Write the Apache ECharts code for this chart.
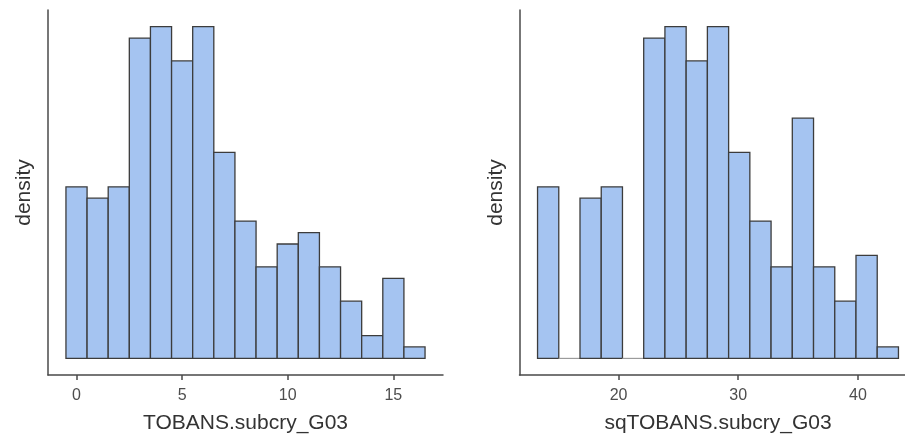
<!DOCTYPE html>
<html>
<head>
<meta charset="utf-8">
<script src="https://cdn.jsdelivr.net/npm/echarts@6/dist/echarts.min.js"></script>
<style>
  html, body { margin: 0; padding: 0; background: #fff; }
  #chart { width: 905px; height: 439px; }
</style>
</head>
<body>
<div id="chart"></div>
<script>
// Histogram of TOBANS.subcry_G03: bin centres 0..16, width 1
const leftBinStart = -0.5;
const leftBinWidth = 1;
const leftCounts = [15, 14, 15, 28, 29, 26, 29, 18, 12, 8, 10, 11, 8, 5, 2, 7, 1];
const leftTicks = [0, 5, 10, 15];

// Histogram of sqTOBANS.subcry_G03
const rightBinStart = 13.23;
const rightBinWidth = 1.774;
const rightCounts = [15, 0, 14, 15, 0, 28, 29, 26, 29, 18, 12, 8, 21, 8, 5, 9, 1];
const rightTicks = [20, 30, 40];

const FONT = "'Liberation Sans', Arial, sans-serif";
const FILL = '#a5c4f1';
const EDGE = '#3c3c3c';
const AXIS = '#4a4a4a';

// Turn counts into density bins [x0, x1, density]
function toBins(start, width, counts) {
  const n = counts.reduce((a, b) => a + b, 0);
  return counts.map((c, i) => [start + i * width, start + (i + 1) * width, c / (n * width)]);
}

// 5% padding around the data on both axes
function range(bins) {
  const lo = bins[0][0], hi = bins[bins.length - 1][1];
  const pad = (hi - lo) * 0.05;
  const ymax = Math.max(...bins.map(b => b[2]));
  return { xmin: lo - pad, xmax: hi + pad, ymin: -0.05 * ymax, ymax: 1.05 * ymax };
}

const leftBins = toBins(leftBinStart, leftBinWidth, leftCounts);
const rightBins = toBins(rightBinStart, rightBinWidth, rightCounts);
const lr = range(leftBins);
const rr = range(rightBins);

// The right panel is 397px wide but runs past the page edge; only the
// first 385.5px are visible, so the axis stops where the page ends.
const rightPanelFull = 397, rightPanelShown = 385.5;
rr.xmax = rr.xmin + (rr.xmax - rr.xmin) * rightPanelShown / rightPanelFull;

function renderBin(params, api) {
  const x0 = api.value(0), x1 = api.value(1), h = api.value(2);
  const p0 = api.coord([x0, 0]);
  const p1 = api.coord([x1, h]);
  const empty = h === 0;
  return {
    type: 'rect',
    shape: { x: p0[0], y: p1[1], width: p1[0] - p0[0], height: p0[1] - p1[1] },
    style: {
      fill: FILL,
      stroke: empty ? '#9a9a9a' : EDGE,
      lineWidth: empty ? 1 : 1.3
    }
  };
}

function xAxis(gridIndex, r, ticks, name, namePadLeft) {
  return {
    type: 'value', gridIndex, min: r.xmin, max: r.xmax, name,
    nameLocation: 'middle', nameGap: 38,
    nameTextStyle: { fontFamily: FONT, fontSize: 21, color: '#333', padding: [0, 0, 0, namePadLeft] },
    axisLine: { show: true, onZero: false, lineStyle: { color: AXIS, width: 1.5 } },
    axisTick: { show: true, customValues: ticks, length: 5, lineStyle: { color: AXIS, width: 1.5 } },
    axisLabel: { customValues: ticks, margin: 13, fontFamily: FONT, fontSize: 16, color: '#4d4d4d' },
    splitLine: { show: false }
  };
}

function yAxis(gridIndex, r) {
  return {
    type: 'value', gridIndex, min: r.ymin, max: r.ymax, name: 'density',
    nameLocation: 'middle', nameGap: 13,
    nameTextStyle: { fontFamily: FONT, fontSize: 21, color: '#333' },
    axisLine: { show: true, onZero: false, lineStyle: { color: AXIS, width: 1.5 } },
    axisTick: { show: false },
    axisLabel: { show: false },
    splitLine: { show: false }
  };
}

const chart = echarts.init(document.getElementById('chart'), null, { renderer: 'canvas' });
chart.setOption({
  animation: false,
  backgroundColor: '#fff',
  grid: [
    { left: 48, top: 10, right: 462, bottom: 63 },
    { left: 519.5, top: 10, right: 0, bottom: 63 }
  ],
  xAxis: [
    xAxis(0, lr, leftTicks, 'TOBANS.subcry_G03', 0),
    // centre the title on the full panel width, not just the visible part
    xAxis(1, rr, rightTicks, 'sqTOBANS.subcry_G03', rightPanelFull - rightPanelShown)
  ],
  yAxis: [yAxis(0, lr), yAxis(1, rr)],
  series: [
    { type: 'custom', xAxisIndex: 0, yAxisIndex: 0, renderItem: renderBin, data: leftBins, encode: { x: [0, 1], y: 2 } },
    { type: 'custom', xAxisIndex: 1, yAxisIndex: 1, renderItem: renderBin, data: rightBins, encode: { x: [0, 1], y: 2 } }
  ]
});
</script>
</body>
</html>
